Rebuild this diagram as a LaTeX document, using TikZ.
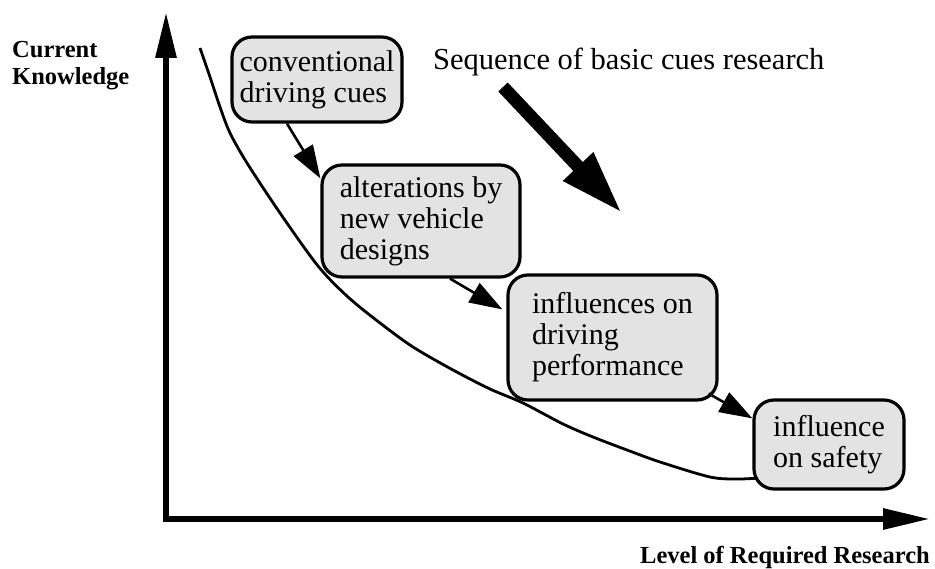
\documentclass[tikz,border=0pt]{standalone}
\usepackage{fontspec}
\setmainfont{Liberation Serif}
\usetikzlibrary{arrows.meta,calc}

\begin{document}
\begin{tikzpicture}[x=1pt,y=-1pt,
  cue/.style={draw, line width=3.2pt, rounded corners=20pt, fill=black!11,
    align=left, inner sep=0pt, font=\fontsize{30}{31}\selectfont},
  seq/.style={line width=2.6pt, -{Triangle[length=33pt,width=22pt]}},
  axis/.style={line width=6pt,
    {Triangle[length=46pt,width=20pt]}-{Triangle[length=47pt,width=20pt]}},
  lbl/.style={font=\fontsize{24.5}{27}\selectfont\bfseries, inner sep=0pt}]
\useasboundingbox (0,0) rectangle (935,569);

% axes
\coordinate (origin) at (166,519);
\coordinate (ytip) at (166,12);
\coordinate (xtip) at (930,519);
\draw[axis] (ytip) -- (origin) -- (xtip);

\node[lbl, align=left, anchor=west] (ylabel) at (12,66) {Current\\Knowledge};
\node[lbl, anchor=base east] (xlabel) at (930,563) {Level of Required Research};

% knowledge curve
\draw[line width=2.8pt, line join=round] plot[smooth, tension=0.5] coordinates {
  (200,48) (210,77) (220,107) (230,133) (247,163) (280,213) (318,266)
  (348,297) (380,323) (413,347) (453,370) (490,389) (523,403) (563,424)
  (593,437) (627,450) (660,462) (710,477) (737,479) (760,478)};

% research steps
\node[cue, minimum width=170pt, minimum height=85pt] (b1) at (317,79.5)
  {conventional\\driving cues};
\node[cue, minimum width=198pt, minimum height=112pt] (b2) at (421,221)
  {alterations by\\new vehicle\\designs};
\node[cue, minimum width=209pt, minimum height=125pt] (b3) at (612.5,337.5)
  {influences on\\driving\\performance};
\node[cue, minimum width=150pt, minimum height=89pt] (b4) at (829,444.5)
  {influence\\on safety};

\draw[seq] ([xshift=-30pt]b1.south) -- ([yshift=-15pt]b2.north west);
\draw[seq] ([xshift=29pt]b2.south) -- ([xshift=-4pt,yshift=-36pt]b3.north west);
\draw[seq] ([xshift=-10pt,yshift=8pt]b3.south east) -- ([yshift=-20pt]b4.north west);

% overall direction of the sequence
\node[font=\fontsize{30.5}{32}\selectfont, inner sep=0pt, anchor=base west]
  (seqlabel) at (433,70) {Sequence of basic cues research};
\coordinate (seqtail) at (503,87);
\coordinate (seqtip) at (622,213);
\draw[line width=13pt, -{Triangle[length=64pt,width=38pt]}] (seqtail) -- (seqtip);
\end{tikzpicture}
\end{document}
